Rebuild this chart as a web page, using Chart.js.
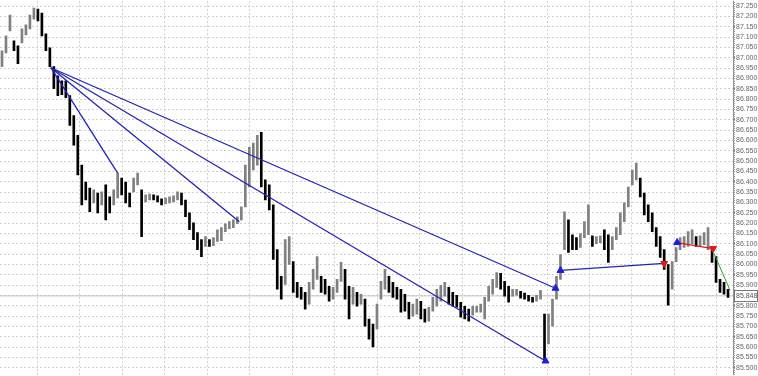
<!DOCTYPE html>
<html>
<head>
<meta charset="utf-8">
<script src="https://cdn.jsdelivr.net/npm/chart.js@4.4.0/dist/chart.umd.min.js"></script>
<style>
  body { margin: 0; background: #fff; }
  canvas { display: block; }
</style>
</head>
<body>
<canvas id="mycanvas" width="758" height="376"></canvas>
<script>
// bar highs / lows, one bar per index
var highs = [
  87.034, 87.106, 87.207, 87.082, 87.058, 87.140, 87.159, 87.207, 87.240, 87.236,
  87.216, 87.116, 87.048, 86.957, 86.913, 86.889, 86.889, 86.817, 86.721, 86.625,
  86.481, 86.399, 86.370, 86.361, 86.346, 86.351, 86.385, 86.327, 86.361, 86.442,
  86.418, 86.399, 86.346, 86.418, 86.442, 86.361, 86.337, 86.341, 86.337, 86.332,
  86.317, 86.322, 86.327, 86.332, 86.351, 86.346, 86.312, 86.250, 86.202, 86.154,
  86.120, 86.135, 86.120, 86.130, 86.168, 86.178, 86.197, 86.207, 86.216, 86.231,
  86.279, 86.481, 86.567, 86.587, 86.625, 86.639, 86.409, 86.385, 86.288, 86.072,
  85.942, 86.120, 86.135, 86.014, 85.913, 85.889, 85.865, 85.913, 85.976, 86.038,
  85.942, 85.928, 85.894, 85.889, 85.928, 86.010, 85.976, 85.894, 85.889, 85.865,
  85.856, 85.832, 85.736, 85.712, 85.808, 85.918, 85.976, 85.942, 85.913, 85.889,
  85.880, 85.856, 85.817, 85.808, 85.832, 85.822, 85.784, 85.793, 85.841, 85.880,
  85.899, 85.913, 85.889, 85.865, 85.851, 85.817, 85.798, 85.784, 85.798, 85.798,
  85.808, 85.841, 85.894, 85.928, 85.961, 85.957, 85.918, 85.894, 85.880, 85.880,
  85.870, 85.861, 85.851, 85.841, 85.851, 85.875, 85.760, 85.760, 85.832, 85.942,
  86.048, 86.255, 86.216, 86.144, 86.130, 86.149, 86.207, 86.288, 86.139, 86.135,
  86.139, 86.168, 86.144, 86.135, 86.178, 86.250, 86.298, 86.375, 86.457, 86.490,
  86.418, 86.346, 86.288, 86.250, 86.178, 86.135, 86.072, 86.000, 86.014, 86.082,
  86.130, 86.135, 86.159, 86.168, 86.135, 86.139, 86.154, 86.178, 86.072, 86.038,
  85.928, 85.913, 85.880
];
var lows = [
  86.957, 87.024, 87.130, 87.034, 86.972, 87.072, 87.111, 87.140, 87.187, 87.178,
  87.106, 87.034, 86.957, 86.851, 86.817, 86.822, 86.807, 86.673, 86.577, 86.433,
  86.288, 86.312, 86.255, 86.298, 86.250, 86.288, 86.216, 86.250, 86.288, 86.322,
  86.337, 86.298, 86.279, 86.351, 86.385, 86.135, 86.303, 86.312, 86.312, 86.303,
  86.288, 86.293, 86.298, 86.303, 86.312, 86.288, 86.231, 86.168, 86.120, 86.072,
  86.038, 86.087, 86.087, 86.091, 86.111, 86.115, 86.159, 86.173, 86.178, 86.197,
  86.216, 86.279, 86.375, 86.457, 86.481, 86.375, 86.312, 86.264, 86.024, 85.880,
  85.832, 85.904, 86.000, 85.865, 85.841, 85.832, 85.784, 85.808, 85.880, 85.928,
  85.865, 85.856, 85.822, 85.832, 85.865, 85.918, 85.832, 85.736, 85.808, 85.798,
  85.808, 85.702, 85.639, 85.601, 85.688, 85.832, 85.880, 85.865, 85.841, 85.832,
  85.769, 85.774, 85.736, 85.750, 85.760, 85.736, 85.721, 85.726, 85.774, 85.798,
  85.822, 85.846, 85.808, 85.798, 85.793, 85.745, 85.736, 85.726, 85.755, 85.769,
  85.769, 85.736, 85.822, 85.856, 85.889, 85.880, 85.846, 85.817, 85.846, 85.851,
  85.837, 85.832, 85.822, 85.817, 85.822, 85.832, 85.529, 85.615, 85.702, 85.832,
  85.928, 86.072, 86.058, 86.072, 86.072, 86.082, 86.130, 86.144, 86.087, 86.101,
  86.106, 86.072, 86.010, 86.072, 86.120, 86.144, 86.207, 86.279, 86.385, 86.409,
  86.327, 86.240, 86.207, 86.159, 86.087, 86.034, 85.976, 85.803, 85.880, 86.014,
  86.072, 86.082, 86.087, 86.101, 86.087, 86.091, 86.096, 86.072, 86.010, 85.913,
  85.865, 85.856, 85.841
];
var lastPrice = 85.848;

// trend lines [barIndex, price]
var fanOrigin = [12.25, 86.952];
var fanEnds = [[29, 86.442], [59.5, 86.207], [136.25, 85.533], [138.75, 85.885]];
var blueLine = [[140, 85.971], [166, 86.005]];
var redLine = [[169.25, 86.106], [178.25, 86.077]];
var greenLine = [[178.5, 86.053], [182.5, 85.875]];
var upArrows = [[136.25, 85.533], [138.75, 85.885], [140, 85.971], [169.25, 86.106]];
var downArrows = [[166, 86.005], [178.25, 86.077]];

var priceTicks = [];
for (var t = 85500; t <= 87250; t += 50) priceTicks.push(t / 1000);

var FONT = "'Liberation Sans', Arial, sans-serif";
var blue = '#2323b4';

function pts(arr) { return arr.map(function(p){ return {x: p[0], y: p[1]}; }); }

var barData = [], barColors = [];
for (var i = 0; i < highs.length; i++) {
  barData.push({x: i, y: [lows[i], highs[i]]});
  var mid = (highs[i] + lows[i]) / 2;
  var prev = i > 0 ? (highs[i-1] + lows[i-1]) / 2 : mid;
  barColors.push(mid < prev ? '#000000' : '#808080');
}

var datasets = [];
fanEnds.forEach(function(e){
  datasets.push({type: 'line', data: pts([fanOrigin, e]), borderColor: blue, borderWidth: 1.3, pointRadius: 0, order: 1});
});
datasets.push({type: 'line', data: pts(blueLine), borderColor: blue, borderWidth: 1.3, pointRadius: 0, order: 1});
datasets.push({type: 'line', data: pts(redLine), borderColor: '#e01818', borderWidth: 1.3, pointRadius: 0, order: 1});
datasets.push({type: 'line', data: pts(greenLine), borderColor: '#2e9a2e', borderWidth: 1, pointRadius: 0, order: 1});
datasets.push({type: 'line', data: pts(upArrows), showLine: false, pointStyle: 'triangle', pointRadius: 4,
  backgroundColor: '#1e1ee0', borderColor: '#1e1ee0', borderWidth: 1, order: 0});
datasets.push({type: 'line', data: pts(downArrows), showLine: false, pointStyle: 'triangle', rotation: 180, pointRadius: 4,
  backgroundColor: '#e01818', borderColor: '#e01818', borderWidth: 1, order: 0});
datasets.push({type: 'line', data: [{x: -0.5, y: lastPrice}, {x: 183.25, y: lastPrice}], borderColor: '#c4c4c4',
  borderWidth: 1, pointRadius: 0, order: 3});
datasets.push({type: 'bar', data: barData, backgroundColor: barColors, barThickness: 2, grouped: false, order: 2});

var priceBox = {
  id: 'priceBox',
  afterDraw: function(chart) {
    var ctx = chart.ctx, y = chart.scales.y.getPixelForValue(lastPrice);
    var x0 = chart.chartArea.right;
    ctx.save();
    // minor ruler ticks
    ctx.strokeStyle = '#999';
    ctx.lineWidth = 1;
    ctx.beginPath();
    for (var v = 85470; v <= 87270; v += 10) {
      var py = Math.round(chart.scales.y.getPixelForValue(v / 1000)) + 0.5;
      ctx.moveTo(x0, py); ctx.lineTo(x0 + 2, py);
    }
    ctx.stroke();
    ctx.fillStyle = '#fff';
    ctx.fillRect(x0 + 2, y - 5, 23, 10);
    ctx.strokeStyle = '#777';
    ctx.strokeRect(x0 + 1.5, Math.round(y) - 5.5, 23, 11);
    ctx.fillStyle = '#555';
    ctx.font = '7px ' + FONT;
    ctx.textBaseline = 'middle';
    ctx.fillText(lastPrice.toFixed(3), x0 + 3, y + 0.5);
    ctx.restore();
  }
};

var ctx = document.getElementById('mycanvas');
var chart = new Chart(ctx, {
  data: {datasets: datasets},
  plugins: [priceBox],
  options: {
    responsive: false,
    devicePixelRatio: 1,
    animation: false,
    layout: {padding: 0, autoPadding: false},
    plugins: {legend: {display: false}, tooltip: {enabled: false}},
    scales: {
      x: {
        type: 'linear', min: -0.5, max: 183.25, offset: false,
        afterBuildTicks: function(s) {
          var tk = [];
          for (var g = 3.5; g < 183; g += 10.65) tk.push({value: g});
          s.ticks = tk;
        },
        afterFit: function(s) { s.height = 0; },
        ticks: {display: false, autoSkip: false},
        grid: {color: '#cfcfcf', drawTicks: false},
        border: {display: false, dash: [2, 2]}
      },
      y: {
        type: 'linear', position: 'right', min: 85.466, max: 87.274,
        afterBuildTicks: function(s) {
          s.ticks = priceTicks.map(function(v){ return {value: v}; });
        },
        afterFit: function(s) { s.width = 25; },
        ticks: {
          color: '#666', padding: 1, autoSkip: false,
          font: {size: 7, family: FONT, lineHeight: 0.05},
          callback: function(v) {
            if (Math.abs(v - 85.85) < 0.001) return '';
            return v.toFixed(3);
          }
        },
        grid: {color: '#cfcfcf', tickLength: 2, tickColor: '#777', tickBorderDash: []},
        border: {display: true, color: '#888', width: 1, dash: [2, 2]}
      }
    }
  }
});
</script>
</body>
</html>
